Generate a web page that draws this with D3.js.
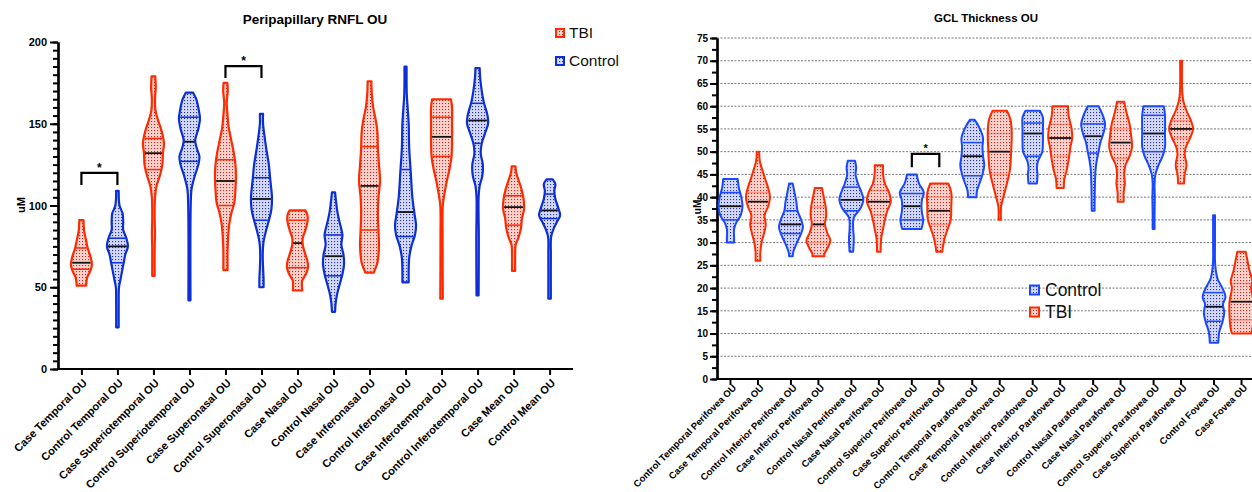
<!DOCTYPE html>
<html>
<head>
<meta charset="utf-8">
<script src="https://cdn.jsdelivr.net/npm/d3@7"></script>
<style>
  body { margin: 0; background: #fff; }
  svg { font-family: "Liberation Sans", Arial, Helvetica, sans-serif; }
</style>
</head>
<body>
<svg id="chart" width="1252" height="492"></svg>
<script>
// ---------- Peripapillary RNFL (left) ----------
var rnflCategories = ["Case Temporal OU", "Control Temporal OU", "Case Superiotemporal OU", "Control Superiotemporal OU",
  "Case Superonasal OU", "Control Superonasal OU", "Case Nasal OU", "Control Nasal OU", "Case Inferonasal OU",
  "Control Inferonasal OU", "Case Inferotemporal OU", "Control Inferotemporal OU", "Case Mean OU", "Control Mean OU"];

// [Q1, median, Q3]
var rnflQuartiles = [[61, 65, 74], [65, 75, 80], [122, 132, 141], [127, 139, 154], [100, 115, 128], [91, 104, 117],
  [62, 77, 91], [57, 69, 82], [85, 112, 136], [81, 96, 122], [130, 142, 154], [138, 152, 162.5], [88, 99, 106], [92, 97, 107]];

// density outline: [value, relative width], from max down to min
var rnflDensity = [
  [[91, .2], [85, .25], [80, .4], [74, .6], [69, .85], [64, 1], [60, .85], [56, .55], [51, .45]],
  [[109, .12], [100, .2], [95, .5], [90, .55], [85, .55], [80, .85], [75, 1], [70, .75], [65, .6], [60, .45], [55, .3], [50, .15], [40, .12], [25.5, .12]],
  [[179, .18], [172, .22], [165, .15], [158, .2], [152, .45], [145, .8], [138, 1], [132, .9], [125, .85], [118, .6], [112, .3], [105, .15], [90, .12], [83, .15], [75, .12], [57, .12]],
  [[169, .35], [165, .65], [158, .9], [153, 1], [147, .85], [140, .55], [135, .7], [130, .95], [125, .85], [118, .5], [110, .2], [100, .12], [42, .1]],
  [[175, .18], [170, .22], [163, .12], [155, .2], [148, .3], [140, .55], [132, .8], [125, .95], [118, 1], [110, .95], [102, .85], [95, .55], [88, .35], [80, .25], [72, .2], [65, .2], [60.5, .2]],
  [[156, .15], [150, .15], [142, .3], [135, .45], [125, .7], [115, .85], [105, 1], [98, .95], [92, .75], [85, .45], [78, .2], [70, .12], [62, .15], [55, .2], [50, .2]],
  [[97, .75], [94, .95], [90, .95], [85, .75], [80, .5], [76, .5], [71, .7], [66, .95], [62, 1], [58, .8], [54, .45], [48, .45]],
  [[108, .15], [102, .25], [95, .4], [88, .65], [82, .85], [76, .75], [70, .95], [64, 1], [58, .85], [52, .6], [46, .35], [40, .2], [35, .15]],
  [[176, .18], [168, .22], [160, .35], [152, .6], [145, .75], [135, .8], [125, .9], [115, 1], [105, .85], [95, .8], [85, .85], [75, .9], [65, .75], [59, .4]],
  [[185, .1], [168, .12], [160, .2], [150, .3], [135, .35], [120, .5], [105, .65], [95, .85], [88, 1], [82, .9], [75, .55], [68, .35], [60, .3], [53, .3]],
  [[165, .9], [160, 1], [150, 1], [140, 1], [130, .95], [122, .75], [115, .5], [108, .3], [100, .12], [80, .1], [43, .12]],
  [[184, .2], [178, .25], [170, .4], [163, .6], [155, .95], [150, 1], [145, .75], [138, .4], [132, .3], [125, .5], [118, .45], [112, .2], [105, .1], [80, .12], [45, .1]],
  [[124, .18], [120, .25], [115, .5], [110, .75], [104, .95], [98, 1], [92, .8], [86, .7], [80, .45], [76, .2], [70, .15], [60, .15]],
  [[116, .3], [113, .55], [109, .45], [104, .55], [99, .8], [94, 1], [90, .7], [86, .4], [81, .15], [70, .12], [43, .12]]
];

// significance brackets: [from, to, top value, leg value]
var rnflBrackets = [["Case Temporal OU", "Control Temporal OU", 120, 112.5], ["Case Superonasal OU", "Control Superonasal OU", 185.3, 178]];

// ---------- GCL thickness (right) ----------
var gclRegions = ["Temporal Perifovea", "Inferior Perifovea", "Nasal Perifovea", "Superior Perifovea",
  "Temporal Parafovea", "Inferior Parafovea", "Nasal Parafovea", "Superior Parafovea", "Fovea"];
var gclSeries = ["Control", "Case"];

// order: Control, Case for each region
var gclQuartiles = [[35, 38, 41], [34.3, 39, 41], [32, 34, 37], [30, 34, 37.8], [37, 39.4, 42.2], [36, 39, 41.5],
  [35, 38, 40.8], [34, 37, 40], [44.7, 49, 52], [45, 50, 54], [49, 54, 56.3], [49, 53, 56], [49.7, 53.4, 56.1],
  [48.5, 52, 55], [50, 54, 58], [53, 55, 56.8], [12.7, 15.9, 19], [13, 17, 21]];

var gclDensity = [
  [[44, .6], [42, .7], [40, .9], [38, 1], [36, .85], [34.5, .5], [33, .3], [31, .3], [30, .3]],
  [[50, .1], [48, .15], [46.5, .3], [44, .6], [42, .85], [40, 1], [38, .85], [36, .55], [34, .65], [32, .5], [30, .3], [28, .2], [26, .2]],
  [[43, .15], [41, .3], [39, .45], [37, .55], [35, .85], [33.5, 1], [32, .85], [30, .5], [28, .2], [27, .15]],
  [[42, .3], [40, .45], [38, .6], [36, .65], [34, .55], [32, .75], [30.5, 1], [29, .8], [27.5, .5], [27, .5]],
  [[48, .3], [46.5, .4], [45, .35], [43, .55], [41, .85], [39.5, 1], [37.5, .75], [35.5, .2], [33, .15], [31, .2], [28, .15]],
  [[47, .35], [45, .35], [43, .5], [41, .85], [39, 1], [37, .7], [35, .5], [33, .35], [31, .2], [28, .15]],
  [[45, .4], [43, .6], [41, 1], [39.5, .85], [38, .8], [36.5, .85], [35, .95], [34, .9], [33, .8]],
  [[43, .75], [41, 1], [38, 1], [35, .95], [33, .7], [31, .45], [29, .3], [28, .25]],
  [[57, .2], [55.5, .55], [53, .9], [51, .85], [49, .9], [47, 1], [45, .85], [43, .6], [41.5, .4], [40, .35]],
  [[59, .6], [57, .9], [54, 1], [50, .95], [46, .85], [42.5, .55], [40, .3], [38, .12], [35, .1]],
  [[59, .6], [57.5, .85], [55, .85], [52, .85], [50, .8], [48, .45], [46.5, .35], [45, .4], [43, .35]],
  [[60, .65], [58, .7], [55, .95], [53, 1], [51, .85], [49, .75], [46, .55], [44, .35], [42, .3]],
  [[60, .45], [58, .8], [56, 1], [54, .85], [52, .6], [50, .45], [48, .3], [46, .2], [43, .15], [37, .12]],
  [[61, .3], [59, .45], [56, .75], [53, .9], [51, .95], [49, .75], [47, .4], [45, .3], [43, .35], [41, .25], [39, .25]],
  [[60, .85], [58, .95], [54, .95], [51, .95], [49, .75], [47, .4], [45, .15], [43, .08], [40, .1], [36, .08], [33, .08]],
  [[70, .08], [63, .1], [61, .2], [59, .45], [57, .8], [55, 1], [53, .75], [51, .4], [49.5, .3], [47, .45], [45, .3], [43, .25]],
  [[36, .08], [30, .08], [25, .1], [22, .3], [20, .7], [18, .95], [16.5, .75], [14.5, .85], [12.5, .7], [10.5, .45], [8, .35]],
  [[28, .35], [26, .5], [24, .65], [21.5, .9], [20, .8], [17, 1], [14, 1], [11, .9], [10, .8]]
];

var gclBrackets = [["Superior Perifovea", 49.5, 46.6]];

var RED = "#ff2a00", BLUE_L = "#0b2fd4", BLUE_R = "#1a48ff";

var svg = d3.select("#chart");

// dotted fills
var defs = svg.append("defs");
function dotPattern(id, bg, dot) {
  var p = defs.append("pattern").attr("id", id).attr("width", 3).attr("height", 3)
    .attr("patternUnits", "userSpaceOnUse");
  p.append("rect").attr("width", 3).attr("height", 3).attr("fill", bg);
  p.append("rect").attr("x", 1).attr("y", 1).attr("width", 1.1).attr("height", 1.1).attr("fill", dot);
}
dotPattern("dotRed", "#fbd2cc", "#c42a22");
dotPattern("dotBlue", "#d3d8f8", "#2434a8");

function widthAt(prof, v) {
  for (var i = 0; i < prof.length - 1; i++) {
    var a = prof[i], b = prof[i + 1];
    if (v <= a[0] && v >= b[0]) {
      var t = (a[0] - v) / (a[0] - b[0]);
      return a[1] + t * (b[1] - a[1]);
    }
  }
  return prof[prof.length - 1][1];
}

function drawViolin(g, cx, y, prof, quart, color, fill, hw, sw, faint) {
  var area = d3.area()
    .y(function (d) { return y(d[0]); })
    .x0(function (d) { return cx - d[1] * hw; })
    .x1(function (d) { return cx + d[1] * hw; })
    .curve(d3.curveCatmullRom.alpha(0.5));
  g.append("path").attr("d", area(prof))
    .attr("fill", "url(#" + fill + ")")
    .attr("stroke", color).attr("stroke-width", sw)
    .attr("stroke-linejoin", "round");
  quart.forEach(function (q, i) {
    var w = widthAt(prof, q) * hw;
    g.append("line")
      .attr("x1", cx - w + 1).attr("x2", cx + w - 1)
      .attr("y1", y(q)).attr("y2", y(q))
      .attr("stroke", i === 1 ? "#111" : color)
      .attr("stroke-width", i === 1 ? 1.8 : 1.5)
      .attr("stroke-opacity", (i !== 1 && faint) ? 0.35 : 1);
  });
}

function styleAxis(g, fs) {
  g.select(".domain").attr("stroke", "#000").attr("stroke-width", 2.2);
  g.selectAll(".tick line").attr("stroke", "#000").attr("stroke-width", 2);
  g.selectAll("text").attr("fill", "#000").style("font-weight", "bold").style("font-size", fs + "px");
}

// ================= LEFT =================
var xL = d3.scalePoint().domain(rnflCategories).range([58, 573]).padding(0.65);
var yL = d3.scaleLinear().domain([0, 200]).range([369, 42]);

var left = svg.append("g");

left.append("text").attr("x", 315).attr("y", 24).attr("text-anchor", "middle")
  .style("font-weight", "bold").style("font-size", "13.5px").text("Peripapillary RNFL OU");

left.append("text").attr("transform", "translate(25,205) rotate(-90)").attr("text-anchor", "middle")
  .style("font-weight", "bold").style("font-size", "11px").text("uM");

var yMinorL = left.append("g").attr("transform", "translate(58,0)")
  .call(d3.axisLeft(yL).tickValues(d3.range(0, 201, 5)).tickSize(5).tickSizeOuter(0).tickFormat(""));
styleAxis(yMinorL, 11);
var yAxisL = left.append("g").attr("transform", "translate(58,0)")
  .call(d3.axisLeft(yL).tickValues([0, 50, 100, 150, 200]).tickSize(8).tickSizeOuter(0).tickPadding(3));
styleAxis(yAxisL, 11);

var xAxisL = left.append("g").attr("transform", "translate(0,369)")
  .call(d3.axisBottom(xL).tickSize(6).tickSizeOuter(0));
xAxisL.select(".domain").attr("d", "M58,0H573");
styleAxis(xAxisL, 11);
xAxisL.selectAll(".tick text")
  .attr("x", 0).attr("y", 0).attr("dy", "0.35em")
  .attr("transform", "translate(3,12) rotate(-45)")
  .style("text-anchor", "end");

rnflCategories.forEach(function (c, i) {
  var isCase = c.indexOf("Case") === 0;
  drawViolin(left, xL(c), yL, rnflDensity[i], rnflQuartiles[i],
    isCase ? RED : BLUE_L, isCase ? "dotRed" : "dotBlue", 10.5, 2.2, false);
});

rnflBrackets.forEach(function (b) {
  var x1 = xL(b[0]), x2 = xL(b[1]);
  left.append("path")
    .attr("d", "M" + x1 + "," + yL(b[3]) + "V" + yL(b[2]) + "H" + x2 + "V" + yL(b[3]))
    .attr("fill", "none").attr("stroke", "#000").attr("stroke-width", 2.2);
  left.append("text").attr("x", (x1 + x2) / 2).attr("y", yL(b[2]) - 1).attr("text-anchor", "middle")
    .style("font-weight", "bold").style("font-size", "12px").text("*");
});

var legL = left.append("g");
[["TBI", RED, "dotRed"], ["Control", BLUE_L, "dotBlue"]].forEach(function (d, i) {
  var yy = 33 + i * 28;
  legL.append("rect").attr("x", 556).attr("y", yy - 4).attr("width", 8).attr("height", 8)
    .attr("fill", "url(#" + d[2] + ")").attr("stroke", d[1]).attr("stroke-width", 2);
  legL.append("text").attr("x", 569).attr("y", yy).attr("dy", "0.35em")
    .style("font-size", "15.5px").attr("fill", "#111").text(d[0]);
});

// ================= RIGHT =================
var xR = d3.scaleBand().domain(gclRegions).range([714, 1258]).paddingInner(0).paddingOuter(0);
var xRin = d3.scalePoint().domain(gclSeries).range([0, xR.bandwidth()]).padding(0.6);
var yR = d3.scaleLinear().domain([0, 75]).range([379, 38]);

var right = svg.append("g");

right.append("text").attr("x", 986).attr("y", 22).attr("text-anchor", "middle")
  .style("font-weight", "bold").style("font-size", "11.5px").text("GCL Thickness OU");

right.selectAll("line.grid").data(d3.range(5, 76, 5)).enter().append("line")
  .attr("class", "grid")
  .attr("x1", 717).attr("x2", 1252)
  .attr("y1", function (d) { return yR(d); }).attr("y2", function (d) { return yR(d); })
  .attr("stroke", "#777").attr("stroke-width", 1).attr("stroke-dasharray", "2,1.5");

var yMinorR = right.append("g").attr("transform", "translate(717,0)")
  .call(d3.axisLeft(yR).tickValues(d3.range(0, 75.1, 2.5)).tickSize(5).tickSizeOuter(0).tickFormat(""));
styleAxis(yMinorR, 10);
var yAxisR = right.append("g").attr("transform", "translate(717,0)")
  .call(d3.axisLeft(yR).tickValues(d3.range(0, 76, 5)).tickSize(7).tickSizeOuter(0).tickPadding(2));
styleAxis(yAxisR, 10);

right.append("text").attr("transform", "translate(701,207) rotate(-90)").attr("text-anchor", "middle")
  .style("font-weight", "bold").style("font-size", "10px").text("uM");

var gclCats = [];
gclRegions.forEach(function (r) { gclSeries.forEach(function (s) { gclCats.push({ region: r, series: s, label: s + " " + r + " OU" }); }); });

var xAxisR = right.append("g").attr("transform", "translate(0,379)");
xAxisR.append("path").attr("class", "domain").attr("d", "M717,0H1252");
var tickR = xAxisR.selectAll("g.tick").data(gclCats).enter().append("g").attr("class", "tick")
  .attr("transform", function (d) { return "translate(" + (xR(d.region) + xRin(d.series)) + ",0)"; });
tickR.append("line").attr("y2", 6);
tickR.append("text").attr("dy", "0.35em")
  .attr("transform", "translate(4,7) rotate(-45)")
  .style("text-anchor", "end").text(function (d) { return d.label; });
styleAxis(xAxisR, 9.5);

gclCats.forEach(function (c, i) {
  var isCase = c.series === "Case";
  drawViolin(right, xR(c.region) + xRin(c.series), yR, gclDensity[i], gclQuartiles[i],
    isCase ? RED : BLUE_R, isCase ? "dotRed" : "dotBlue", 12, 2, isCase);
});

gclBrackets.forEach(function (b) {
  var x1 = xR(b[0]) + xRin("Control"), x2 = xR(b[0]) + xRin("Case");
  right.append("path")
    .attr("d", "M" + x1 + "," + yR(b[2]) + "V" + yR(b[1]) + "H" + x2 + "V" + yR(b[2]))
    .attr("fill", "none").attr("stroke", "#000").attr("stroke-width", 2.2);
  right.append("text").attr("x", (x1 + x2) / 2).attr("y", yR(b[1]) - 2).attr("text-anchor", "middle")
    .style("font-weight", "bold").style("font-size", "11px").text("*");
});

var legR = right.append("g");
[["Control", BLUE_R, "dotBlue"], ["TBI", RED, "dotRed"]].forEach(function (d, i) {
  var yy = 290 + i * 22;
  legR.append("rect").attr("x", 1030).attr("y", yy - 4.5).attr("width", 9).attr("height", 9)
    .attr("fill", "url(#" + d[2] + ")").attr("stroke", d[1]).attr("stroke-width", 2);
  legR.append("text").attr("x", 1045).attr("y", yy).attr("dy", "0.35em")
    .style("font-size", "17.5px").attr("fill", "#111").text(d[0]);
});
</script>
</body>
</html>
